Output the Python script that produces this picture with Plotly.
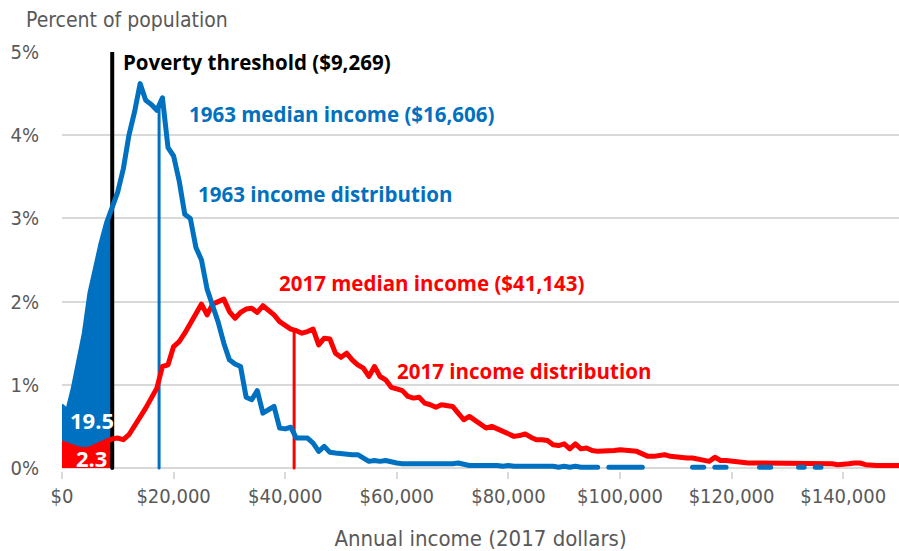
import numpy as np
import plotly.graph_objects as go

# ---------------- data ----------------
income = list(range(0, 151000, 1000))

pct_1963 = [
    0.74, 0.68, 0.95, 1.30, 1.62, 2.10, 2.42, 2.70, 2.95, 3.15,
    3.32, 3.60, 4.00, 4.28, 4.62, 4.42, 4.37, 4.30, 4.45, 3.85,
    3.75, 3.45, 3.05, 3.00, 2.65, 2.50, 2.15, 1.95, 1.75, 1.50,
    1.30, 1.25, 1.22, 0.85, 0.82, 0.93, 0.66, 0.70, 0.74, 0.48,
    0.47, 0.49, 0.36, 0.36, 0.36, 0.30, 0.20, 0.26, 0.19, 0.18,
    0.17, 0.16, 0.16, 0.16, 0.12, 0.08, 0.09, 0.08, 0.09, 0.07,
    0.06, 0.05, 0.05, 0.04, 0.05, 0.04, 0.04, 0.04, 0.05, 0.04,
    0.05, 0.06, 0.04, 0.03, 0.03, 0.03, 0.04, 0.03, 0.03, 0.02,
    0.03, 0.02, 0.02, 0.03, 0.02, 0.02, 0.02, 0.02, 0.02, 0.01,
    0.02, 0.01, 0.02, 0.01, 0.01, 0.01, 0.01, None, 0.01, 0.01,
    0.01, 0.01, 0.01, 0.01, 0.01, None, None, None, None, None,
    None, None, None, 0.01, 0.01, 0.01, None, 0.01, 0.01, 0.01,
    None, None, None, None, None, 0.01, 0.01, 0.01, None, None,
    None, None, 0.01, 0.01, None, 0.01, 0.01, None, None, None,
    None, None, None, None, None, None, None, None, None, None,
    None,
]

pct_2017 = [
    0.30, 0.27, 0.25, 0.23, 0.22, 0.23, 0.26, 0.30, 0.33, 0.35,
    0.36, 0.34, 0.40, 0.50, 0.60, 0.72, 0.84, 0.96, 1.22, 1.24,
    1.46, 1.52, 1.62, 1.74, 1.86, 1.97, 1.84, 1.97, 2.00, 2.03,
    1.88, 1.80, 1.87, 1.91, 1.92, 1.87, 1.95, 1.90, 1.84, 1.76,
    1.72, 1.67, 1.65, 1.62, 1.64, 1.67, 1.48, 1.56, 1.55, 1.38,
    1.33, 1.38, 1.30, 1.24, 1.20, 1.10, 1.22, 1.10, 1.06, 0.97,
    0.95, 0.93, 0.86, 0.84, 0.85, 0.78, 0.76, 0.73, 0.76, 0.75,
    0.74, 0.66, 0.58, 0.62, 0.57, 0.52, 0.48, 0.50, 0.47, 0.44,
    0.42, 0.38, 0.39, 0.41, 0.37, 0.34, 0.34, 0.33, 0.28, 0.27,
    0.29, 0.23, 0.29, 0.23, 0.24, 0.21, 0.20, 0.20, 0.20, 0.21,
    0.22, 0.21, 0.20, 0.20, 0.17, 0.14, 0.14, 0.15, 0.16, 0.14,
    0.13, 0.13, 0.12, 0.12, 0.11, 0.10, 0.08, 0.13, 0.09, 0.09,
    0.08, 0.07, 0.07, 0.06, 0.06, 0.06, 0.06, 0.06, 0.06, 0.06,
    0.06, 0.06, 0.06, 0.06, 0.06, 0.06, 0.05, 0.05, 0.05, 0.04,
    0.04, 0.05, 0.06, 0.06, 0.04, 0.03, 0.03, 0.03, 0.03, 0.03,
    0.03,
]

poverty_threshold = 9000
median_1963 = 17400
median_2017 = 41600
share_below_1963 = "19.5"
share_below_2017 = "2.3"

x_ticks = [0, 20000, 40000, 60000, 80000, 100000, 120000, 140000]
x_tick_labels = ["$0", "$20,000", "$40,000", "$60,000", "$80,000",
                 "$100,000", "$120,000", "$140,000"]
y_ticks = [0, 1, 2, 3, 4, 5]
y_tick_labels = ["0%", "1%", "2%", "3%", "4%", "5%"]

# ---------------- styling ----------------
BLUE = "#0070C0"
RED = "#FF0000"
GRAY = "#595959"
GRID = "#D9D9D9"
BOLD = "'Open Sans', Roboto, 'Liberation Sans', Arial, sans-serif"
COND = "'Liberation Sans Narrow', 'DejaVu Sans Condensed', 'Liberation Sans', sans-serif"

x = np.array(income, dtype=float)
b = np.array([np.nan if v is None else v for v in pct_1963], dtype=float)
r = np.array(pct_2017, dtype=float)

def interp_at(xv, arr):
    ok = ~np.isnan(arr)
    return float(np.interp(xv, x[ok], arr[ok]))

mask = x < poverty_threshold
fx = np.append(x[mask], poverty_threshold)
fb = np.append(b[mask], interp_at(poverty_threshold, b))
fr = np.append(r[mask], interp_at(poverty_threshold, r))

fig = go.Figure()
fig.add_trace(go.Scatter(x=fx, y=fb, mode="lines", fill="tozeroy", fillcolor=BLUE,
                         line=dict(width=0, color=BLUE), hoverinfo="skip", showlegend=False))
fig.add_trace(go.Scatter(x=fx, y=fr, mode="lines", fill="tozeroy", fillcolor=RED,
                         line=dict(width=0, color=RED), hoverinfo="skip", showlegend=False))
fig.add_trace(go.Scatter(x=[median_1963, median_1963], y=[0, interp_at(median_1963, b)],
                         mode="lines", line=dict(color=BLUE, width=3), showlegend=False))
fig.add_trace(go.Scatter(x=[median_2017, median_2017], y=[0, interp_at(median_2017, r)],
                         mode="lines", line=dict(color=RED, width=3), showlegend=False))
fig.add_trace(go.Scatter(x=[poverty_threshold, poverty_threshold], y=[0, 5],
                         mode="lines", line=dict(color="black", width=4), showlegend=False))
fig.add_trace(go.Scatter(x=x, y=r, mode="lines", line=dict(color=RED, width=5),
                         name="2017", showlegend=False))
fig.add_trace(go.Scatter(x=x, y=b, mode="lines", line=dict(color=BLUE, width=5),
                         connectgaps=False, name="1963", showlegend=False))

# pixel helpers for label placement
X0, PXW, Y0, PXH = 62, 837 / 150000, 468, 83.2
def ax(px):
    return (px - X0) / PXW
def ay(py):
    return (Y0 - py) / PXH

ann = [
    dict(text="<b>Poverty threshold ($9,269)</b>", x=ax(121), y=ay(62), color="black"),
    dict(text="<b>1963 median income ($16,606)</b>", x=ax(187), y=ay(114), color=BLUE),
    dict(text="<b>1963 income distribution</b>", x=ax(196), y=ay(194), color=BLUE),
    dict(text="<b>2017 median income ($41,143)</b>", x=ax(277), y=ay(283), color=RED),
    dict(text="<b>2017 income distribution</b>", x=ax(395), y=ay(371), color=RED),
]
for a in ann:
    fig.add_annotation(text=a["text"], x=a["x"], y=a["y"], xref="x", yref="y",
                       xanchor="left", yanchor="middle", showarrow=False,
                       font=dict(family=BOLD, size=20.5, color=a["color"]))

fig.add_annotation(text="<b>" + share_below_1963 + "</b>", x=ax(92), y=ay(420), xref="x", yref="y",
                   xanchor="center", yanchor="middle", showarrow=False,
                   font=dict(family=BOLD, size=22, color="white"))
fig.add_annotation(text="<b>" + share_below_2017 + "</b>", x=ax(91.5), y=ay(458), xref="x", yref="y",
                   xanchor="center", yanchor="middle", showarrow=False,
                   font=dict(family=BOLD, size=22, color="white"))

fig.add_annotation(text="Percent of population", xref="paper", yref="paper",
                   x=(24 - 62) / 837, y=(471 - 20) / 419, xanchor="left", yanchor="middle",
                   showarrow=False, font=dict(family=COND, size=21, color=GRAY))

fig.update_layout(
    width=899, height=551,
    margin=dict(l=62, r=0, t=52, b=80),
    plot_bgcolor="white", paper_bgcolor="white",
    showlegend=False,
)
fig.update_xaxes(
    range=[0, 150000], tickvals=x_ticks, ticktext=x_tick_labels,
    showgrid=False, zeroline=False, showline=False, automargin=False,
    ticks="outside", ticklen=7, tickwidth=2, tickcolor=GRID,
    tickfont=dict(family=COND, size=20, color=GRAY),
    title=dict(text="Annual income (2017 dollars)", standoff=26,
               font=dict(family=COND, size=22, color=GRAY)),
)
fig.update_yaxes(
    range=[-0.036, 5], tickvals=y_ticks, ticktext=y_tick_labels,
    showgrid=True, gridcolor=GRID, gridwidth=2, automargin=False,
    zeroline=True, zerolinecolor=GRID, zerolinewidth=2, showline=False,
    ticks="", ticklabelstandoff=22,
    tickfont=dict(family=COND, size=20, color=GRAY),
)

post = ("document.body.style.margin='0';document.body.style.padding='0';"
        "document.querySelectorAll('.scatterlayer path.js-line').forEach(function(p){"
        "p.style.strokeLinecap='round';p.style.strokeLinejoin='round';});")
fig.write_html("out.html", post_script=post, config={"displayModeBar": False})
